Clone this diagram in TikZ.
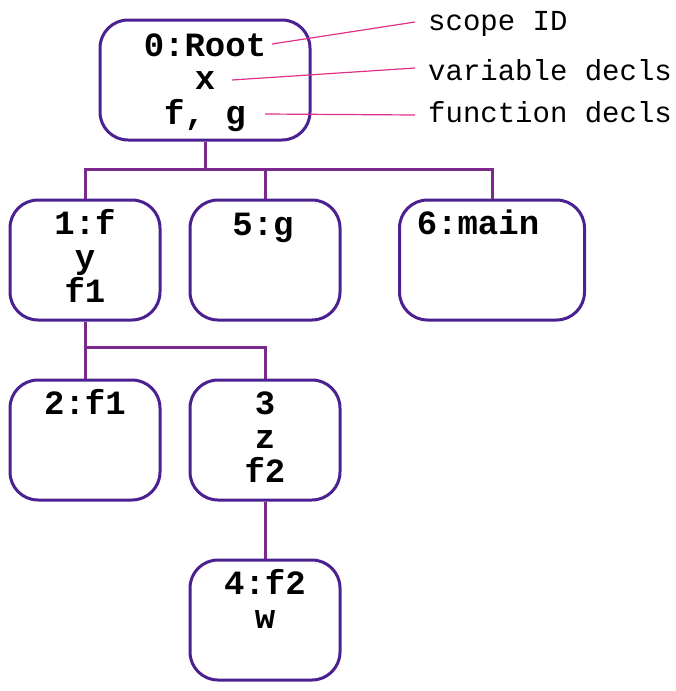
\documentclass[tikz,border=0pt]{standalone}
\usepackage{fontspec}
\setmonofont{Liberation Mono}
\begin{document}
\begin{tikzpicture}[x=1pt,y=-1pt,
  box/.style={draw=boxc,line width=3pt,rounded corners=28pt,minimum width=#1,minimum height=120pt,inner sep=0pt},
  conn/.style={draw=linec,line width=3pt},
  ann/.style={draw=annc,line width=1.2pt},
  txt/.style={font=\ttfamily\bfseries\fontsize{34}{36}\selectfont,inner sep=0pt,anchor=base},
  lab/.style={font=\ttfamily\fontsize{29}{32}\selectfont,inner sep=0pt,anchor=base west}]
\definecolor{boxc}{HTML}{4B2090}
\definecolor{linec}{HTML}{7B2A8B}
\definecolor{annc}{HTML}{E0308A}
\useasboundingbox (0,0) rectangle (675,691);
\node[box=150pt] (r0) at (205,80) [minimum width=210pt] {};
\node[box=150pt] (n1) at (85,260) {};
\node[box=150pt] (n5) at (265,260) {};
\node[box=185pt] (n6) at (492,260) {};
\node[box=150pt] (n2) at (85,440) {};
\node[box=150pt] (n3) at (265,440) {};
\node[box=150pt] (n4) at (265,620) {};
% texts
\node[txt] (t0a) at (205,56) {0:Root};
\node[txt] (t0b) at (205,89) {x};
\node[txt] (t0c) at (205,124) {f, g};
\node[txt] (t1a) at (85,234) {1:f};
\node[txt] (t1b) at (85,268) {y};
\node[txt] (t1c) at (85,302) {f1};
\node[txt] (t5) at (263,235) {5:g};
\node[txt] (t6) at (478,234) {6:main};
\node[txt] (t2) at (85,414) {2:f1};
\node[txt] (t3a) at (265,414) {3};
\node[txt] (t3b) at (265,448) {z};
\node[txt] (t3c) at (265,482) {f2};
\node[txt] (t4a) at (265,594) {4:f2};
\node[txt] (t4b) at (265,628) {w};
% connectors
\coordinate (j0) at (205,169);
\coordinate (j0l) at (85,169);
\coordinate (j0m) at (265,169);
\coordinate (j0r) at (492,169);
\draw[conn] (r0.south) -- (j0);
\draw[conn] (n1.north) -- (j0l) -- (j0r) -- (n6.north);
\draw[conn] (n5.north) -- (j0m);
\coordinate (j1) at (85,347);
\coordinate (j1r) at (265,347);
\draw[conn] (n1.south) -- (n2.north);
\draw[conn] (j1) -- (j1r) -- (n3.north);
\draw[conn] (n3.south) -- (n4.north);
% annotations
\node[lab] (l1) at (428,30) {scope ID};
\node[lab] (l2) at (428,80) {variable decls};
\node[lab] (l3) at (428,122) {function decls};
\coordinate (a1) at (272,44);
\coordinate (a2) at (232,80);
\coordinate (a3) at (265,114);
\draw[ann] (a1) -- (415,22);
\draw[ann] (a2) -- (415,68);
\draw[ann] (a3) -- (415,115);
\end{tikzpicture}
\end{document}
